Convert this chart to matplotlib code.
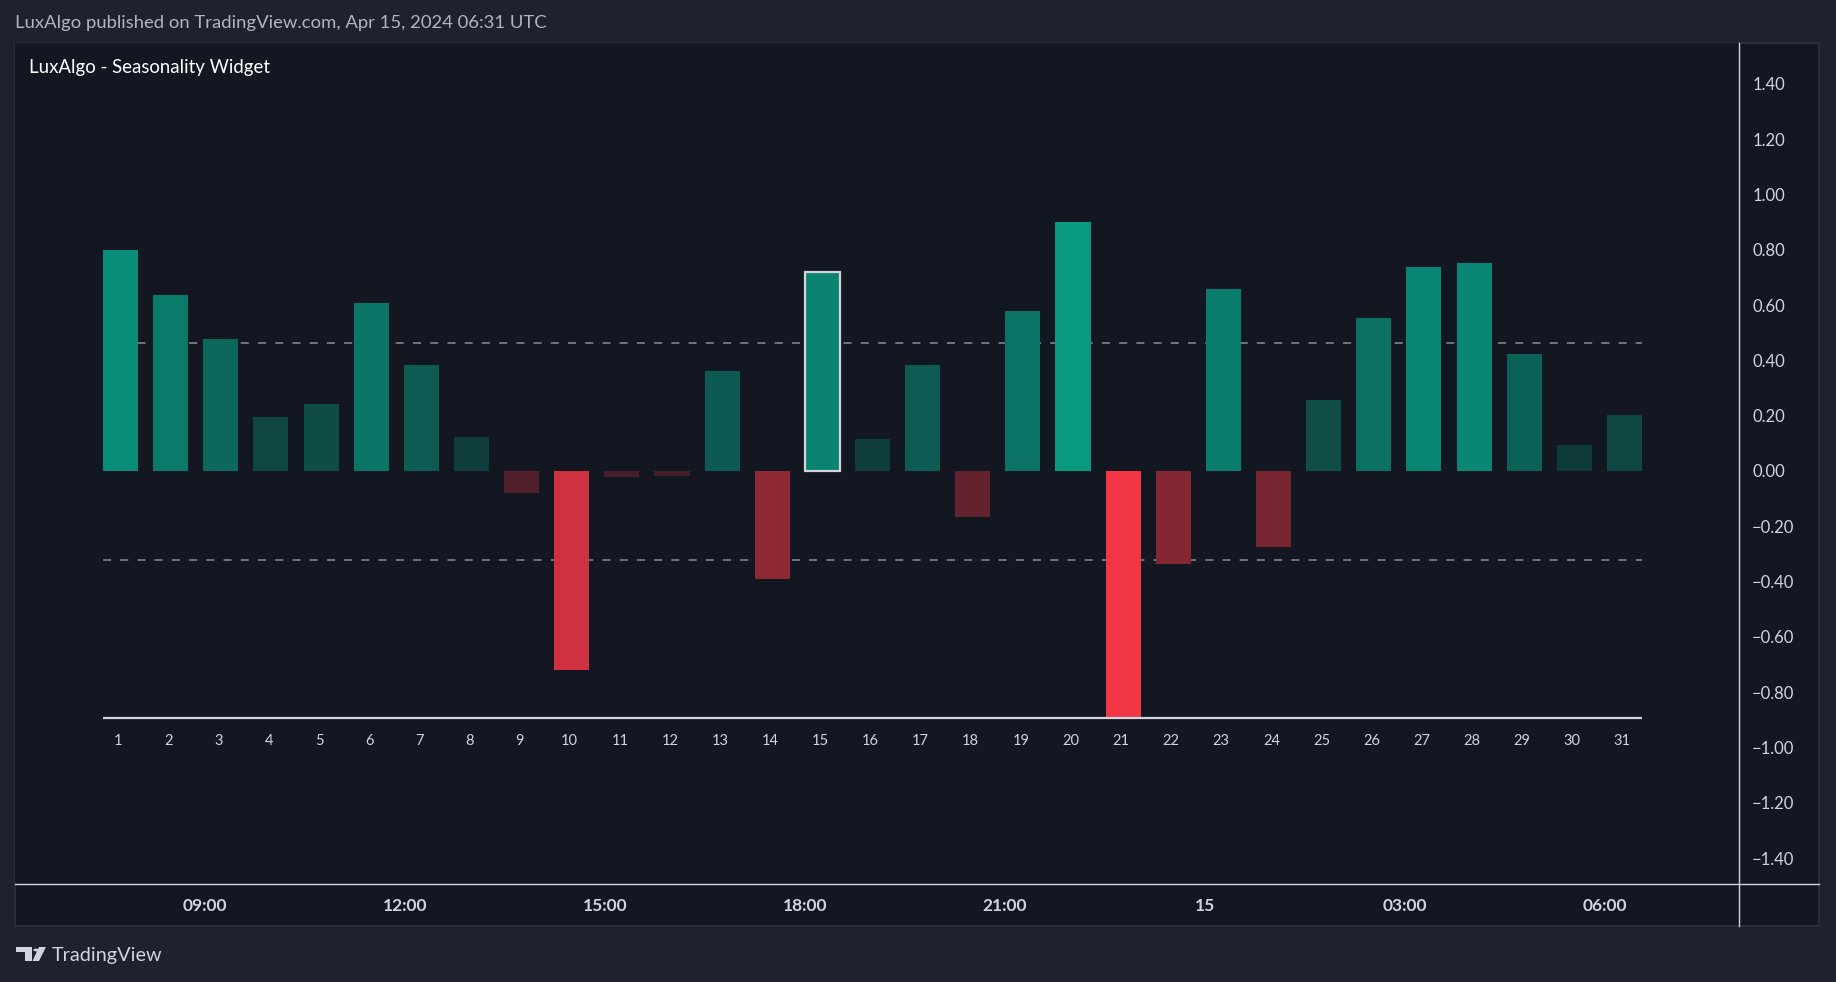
import numpy as np
import matplotlib as mpl
import matplotlib.pyplot as plt
from matplotlib.patches import Rectangle, Polygon, Circle
from matplotlib.lines import Line2D
mpl.use('Agg')

# Data
days = list(range(1, 32))
values = [0.800, 0.636, 0.479, 0.195, 0.242, 0.607, 0.382, 0.123, -0.081, -0.721,
          -0.021, -0.017, 0.361, -0.390, 0.721, 0.115, 0.382, -0.165, 0.577, 0.900,
          -0.895, -0.335, 0.658, -0.276, 0.255, 0.552, 0.738, 0.751, 0.424, 0.093,
          0.204]
highlight_day = 15
price_ticks = [1.4, 1.2, 1.0, 0.8, 0.6, 0.4, 0.2, 0.0, -0.2, -0.4, -0.6, -0.8,
               -1.0, -1.2, -1.4]
time_labels = ["09:00", "12:00", "15:00", "18:00", "21:00", "15", "03:00", "06:00"]

header = "LuxAlgo published on TradingView.com, Apr 15, 2024 06:31 UTC"
title = "LuxAlgo - Seasonality Widget"

W, H = 1836, 982
OUTER = '#1e222d'
PANEL = '#131722'
TEXT = '#d1d4dc'

plt.rcParams['font.family'] = ['Lato', 'DejaVu Sans']
plt.rcParams['lines.scale_dashes'] = False


def fx(px):
    return px / W


def fy(py):
    return 1 - py / H


def bar_colors(vals):
    vals = np.asarray(vals)
    pos_max = vals[vals > 0].max()
    neg_max = -vals[vals < 0].min()
    g_lo, g_hi = np.array([16, 47, 50]), np.array([8, 153, 129])
    r_lo, r_hi = np.array([66, 30, 41]), np.array([242, 54, 69])
    out = []
    for v in vals:
        if v >= 0:
            t = v / pos_max
            c = g_lo + (g_hi - g_lo) * t
        else:
            t = -v / neg_max
            c = r_lo + (r_hi - r_lo) * t
        out.append(tuple(c / 255))
    return out


fig = plt.figure(figsize=(W / 100, H / 100), dpi=100, facecolor=OUTER)

# panel background
fig.patches.append(Rectangle((fx(15), fy(926)), fx(1819) - fx(15), (926 - 43) / H,
                             transform=fig.transFigure, facecolor=PANEL,
                             edgecolor='#2a2e39', linewidth=1.5, zorder=-5))

# main plot area
ax = fig.add_axes([fx(15), fy(884), fx(1739) - fx(15), (884 - 43) / H])
ax.set_facecolor(PANEL)
ax.set_xlim(-1.105, 33.285)
ax.set_ylim(-1.494, 1.548)
for s in ax.spines.values():
    s.set_visible(False)
ax.set_xticks([])

vals = np.array(values)
colors = bar_colors(vals)
edges = ['#d1d4dc' if d == highlight_day else 'none' for d in days]
ax.bar(days, vals, width=0.70, color=colors, edgecolor=edges, linewidth=1.6, zorder=3)

lo = vals.min()
x0, x1 = days[0] - 0.35, days[-1] + 0.35
ax.hlines(lo, x0, x1, color='#d1d4dc', linewidth=1.6, zorder=4)

# averages of positive and negative returns
avg_up = vals[vals > 0].mean()
avg_dn = vals[vals < 0].mean()
for lvl in (avg_up, avg_dn):
    ax.hlines(lvl, x0, x1, color='#787b86', linewidth=1.3, linestyles=(0, (5.8, 6.6)),
              zorder=2)

for d in days:
    ax.annotate(str(d), (d, lo), xytext=(-1.5, -16), textcoords='offset points',
                ha='center', va='center', color=TEXT, fontsize=10.5)

# right price scale
ax.yaxis.tick_right()
ax.set_yticks(price_ticks)
ax.set_yticklabels([f"{t:.2f}".replace('-', '\u2212') for t in price_ticks])
ax.tick_params(axis='y', length=0, pad=9.5, labelsize=12, labelcolor=TEXT)
for lbl in ax.get_yticklabels():
    lbl.set_horizontalalignment('left')

# time scale
ax_t = fig.add_axes([fx(15), fy(926), fx(1739) - fx(15), (926 - 884) / H])
ax_t.set_xlim(-0.95, 7.67)
ax_t.set_ylim(0, 1)
ax_t.axis('off')
for i, lab in enumerate(time_labels):
    ax_t.text(i, 0.48, lab, ha='center', va='center', color=TEXT, fontsize=12.5,
              fontweight='bold')

# separator lines
fig.add_artist(Line2D([fx(1739), fx(1739)], [fy(43), fy(926)], color=TEXT,
                      linewidth=1, transform=fig.transFigure))
fig.add_artist(Line2D([fx(15), fx(1819)], [fy(884), fy(884)], color=TEXT,
                      linewidth=1, transform=fig.transFigure))

# texts
fig.text(fx(15), fy(23), header, ha='left', va='center', color='#b2b5be', fontsize=13.3)
fig.text(fx(29), fy(67), title, ha='left', va='center', color='#ffffff', fontsize=13.4)

# TradingView logo
def px_poly(pts):
    return [(fx(x), fy(y)) for x, y in pts]


logo_c = '#d1d4dc'
fig.patches.append(Polygon(px_poly([(16, 947), (32, 947), (32, 961), (25, 961), (25, 952),
                                    (16, 952)]), closed=True, transform=fig.transFigure,
                           facecolor=logo_c, edgecolor='none'))
fig.patches.append(Circle((fx(36), fy(950)), 2.6 / W, transform=fig.transFigure,
                          facecolor=logo_c, edgecolor='none'))
fig.patches.append(Polygon(px_poly([(39, 947), (46, 947), (39, 961), (32.5, 961)]),
                           closed=True, transform=fig.transFigure,
                           facecolor=logo_c, edgecolor='none'))
fig.text(fx(52), fy(955), "TradingView", ha='left', va='center', color=logo_c,
         fontsize=14.3)

fig.savefig('out.png', dpi=100, facecolor=OUTER)
